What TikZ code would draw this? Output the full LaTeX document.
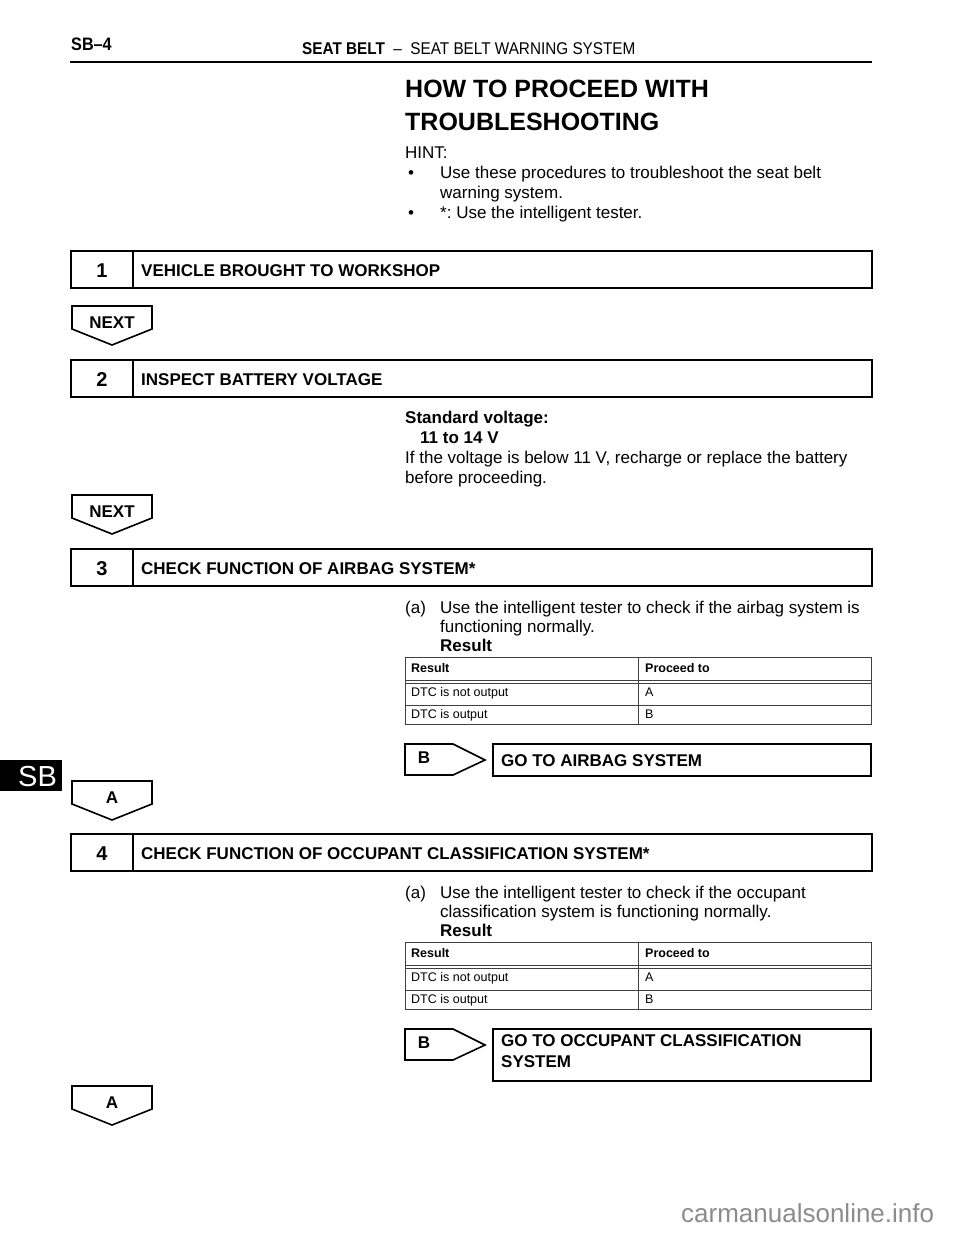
\documentclass[tikz,border=0pt]{standalone}
\usepackage{fontspec}
\setmainfont{Liberation Sans}
\newfontfamily\narrowfont[FakeStretch=0.9]{Liberation Sans}
\newcommand\fsz[1]{\fontsize{#1}{#1}\selectfont}
\frenchspacing
\tikzset{
  txt/.style={anchor=base west, inner sep=0pt, font=\fsz{17}},
  btxt/.style={txt, font=\fsz{17}\bfseries},
  ttxt/.style={anchor=base west, inner sep=0pt, font=\fsz{12.5}},
  tbtxt/.style={ttxt, font=\fsz{12.5}\bfseries},
  boxline/.style={line width=1.8pt, black},
  tabline/.style={line width=0.9pt, black!75},
  numtxt/.style={anchor=base, inner sep=0pt, font=\fsz{20}\bfseries},
  shapeline/.style={line width=1.6pt, black, line join=miter},
}
\newcommand\stepbox[4]{%
  \draw[boxline] (71,#2) rectangle (872,#2+37);
  \draw[boxline] (133,#2) -- (133,#2+37);
  \node[numtxt] (#1n) at (102,#2+26) {#3};
  \node[btxt] (#1t) at (141,#2+25) {#4};
}
\newcommand\downshape[3]{%
  \draw[shapeline] (72,#2) -- (152,#2) -- (152,#2+23) -- (112,#2+39) -- (72,#2+23) -- cycle;
  \node[anchor=base, inner sep=0pt, font=\fsz{17}\bfseries] (#1) at (112,#2+22) {#3};
}
\newcommand\rightshape[2]{%
  \draw[shapeline] (405,#2) -- (453,#2) -- (485,#2+16) -- (453,#2+31) -- (405,#2+31) -- cycle;
  \node[anchor=base, inner sep=0pt, font=\fsz{17}\bfseries] (#1) at (424,#2+19) {B};
}
\newcommand\restable[2]{%
  \draw[tabline] (405,#2) rectangle (871,#2+67);
  \draw[tabline] (405,#2+23.5) -- (871,#2+23.5);
  \draw[tabline] (405,#2+26) -- (871,#2+26);
  \draw[tabline] (405,#2+48) -- (871,#2+48);
  \draw[tabline] (638,#2) -- (638,#2+67);
  \node[tbtxt] (#1h1) at (411,#2+15) {Result};
  \node[tbtxt] (#1h2) at (645,#2+15) {Proceed to};
  \node[ttxt] (#1a1) at (411,#2+39) {DTC is not output};
  \node[ttxt] (#1a2) at (645,#2+39) {A};
  \node[ttxt] (#1b1) at (411,#2+61) {DTC is output};
  \node[ttxt] (#1b2) at (645,#2+61) {B};
}
\begin{document}
\begin{tikzpicture}[x=1pt,y=-1pt]
\useasboundingbox[fill=white] (0,0) rectangle (960,1242);
% header
\node[anchor=base west, inner sep=0pt, font=\fsz{18}\narrowfont\bfseries] (pg) at (71,50) {SB–4};
\node[anchor=base west, inner sep=0pt, font=\fsz{17}\narrowfont] (hdr) at (302,54) {\textbf{SEAT BELT} \ – \ SEAT BELT WARNING SYSTEM};
\draw[line width=2.5pt] (70,62) -- (872,62);
% side tab
\fill[black] (0,760) rectangle (62,791);
\node[anchor=base west, inner sep=0pt, font=\fsz{29}, text=white] (tab) at (18,786) {SB};
% title
\node[anchor=base west, inner sep=0pt, font=\fsz{25}\bfseries] (t1) at (405,97) {HOW TO PROCEED WITH};
\node[anchor=base west, inner sep=0pt, font=\fsz{25}\bfseries] (t2) at (405,130) {TROUBLESHOOTING};
\node[txt] (hint) at (405,158) {HINT:};
\node[txt] (b1) at (408,178) {•};
\node[txt] (h1) at (440,178) {Use these procedures to troubleshoot the seat belt};
\node[txt] (h2) at (440,198) {warning system.};
\node[txt] (b2) at (408,218) {•};
\node[txt] (h3) at (440,218) {*: Use the intelligent tester.};
% step 1
\stepbox{s1}{251}{1}{VEHICLE BROUGHT TO WORKSHOP}
\downshape{n1}{306}{NEXT}
% step 2
\stepbox{s2}{360}{2}{INSPECT BATTERY VOLTAGE}
\node[btxt] (sv1) at (405,423) {Standard voltage:};
\node[btxt] (sv2) at (420,443) {11 to 14 V};
\node[txt] (sv3) at (405,463) {If the voltage is below 11 V, recharge or replace the battery};
\node[txt] (sv4) at (405,483) {before proceeding.};
\downshape{n2}{495}{NEXT}
% step 3
\stepbox{s3}{549}{3}{CHECK FUNCTION OF AIRBAG SYSTEM*}
\node[txt] (a3l) at (405,613) {(a)};
\node[txt] (a3a) at (440,613) {Use the intelligent tester to check if the airbag system is};
\node[txt] (a3b) at (440,632) {functioning normally.};
\node[btxt] (a3r) at (440,651) {Result};
\restable{ta}{657}
\rightshape{bb1}{744}
\draw[boxline] (493,744) rectangle (871,776);
\node[btxt] (g1) at (501,766) {GO TO AIRBAG SYSTEM};
\downshape{aa1}{781}{A}
% step 4
\stepbox{s4}{834}{4}{CHECK FUNCTION OF OCCUPANT CLASSIFICATION SYSTEM*}
\node[txt] (a4l) at (405,898) {(a)};
\node[txt] (a4a) at (440,898) {Use the intelligent tester to check if the occupant};
\node[txt] (a4b) at (440,917) {classification system is functioning normally.};
\node[btxt] (a4r) at (440,936) {Result};
\restable{tb}{942}
\rightshape{bb2}{1029}
\draw[boxline] (493,1029) rectangle (871,1081);
\node[btxt] (g2a) at (501,1046) {GO TO OCCUPANT CLASSIFICATION};
\node[btxt] (g2b) at (501,1067) {SYSTEM};
\downshape{aa2}{1086}{A}
% watermark
\node[anchor=base west, inner sep=0pt, font=\fsz{26}, text=black!45] (wm) at (681,1222) {carmanualsonline.info};
\end{tikzpicture}
\end{document}
